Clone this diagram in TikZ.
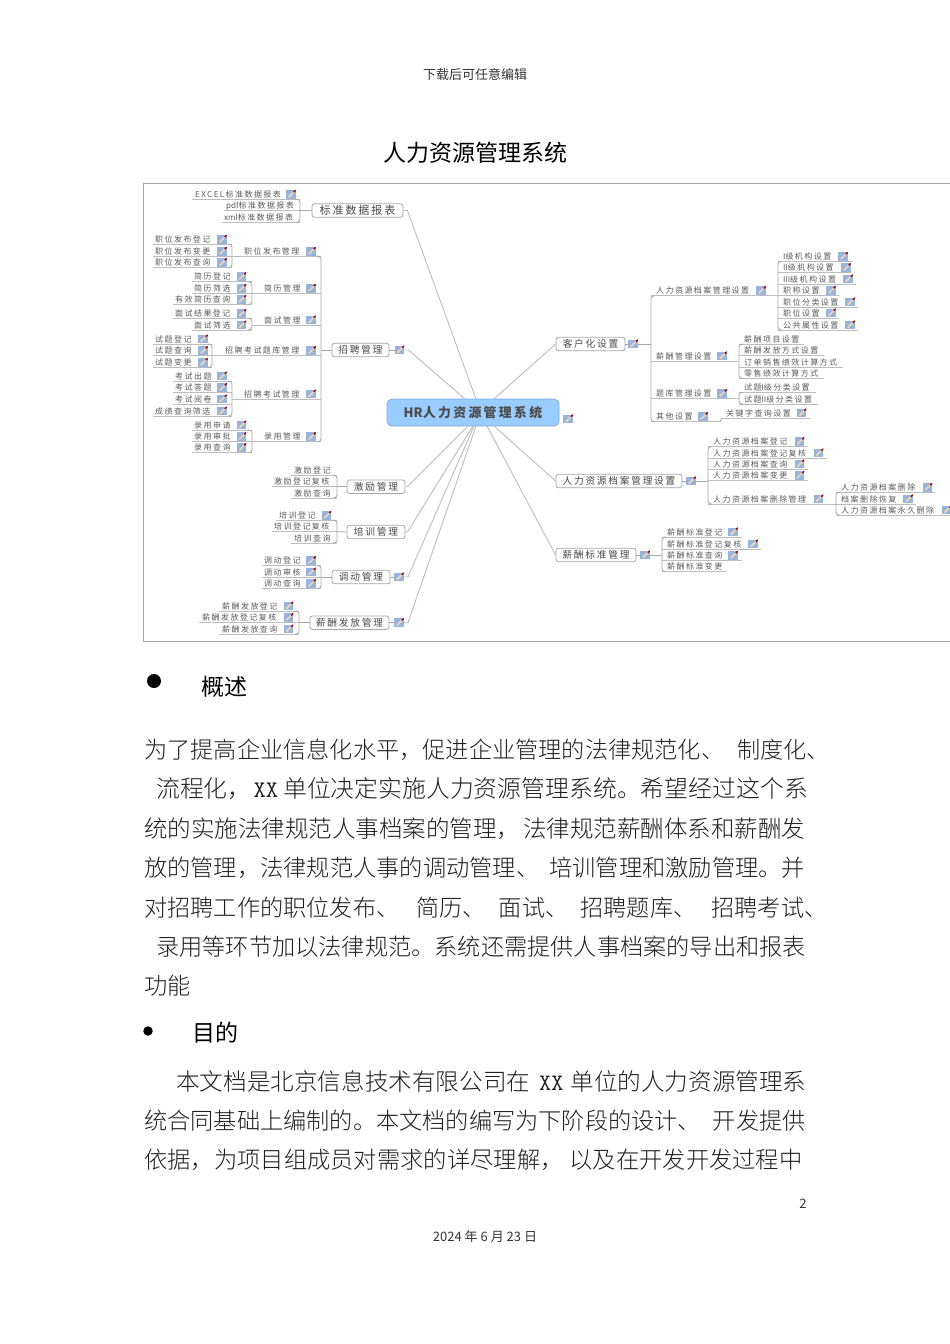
\documentclass[tikz,border=0pt]{standalone}
\usepackage{fontspec}
\usepackage{tikz}
\setmainfont{Noto Sans CJK SC Light}
\newfontfamily\headfont{Noto Sans CJK SC}
\newfontfamily\mapfont[LetterSpace=18]{Noto Sans CJK SC}

\definecolor{leafgrey}{HTML}{5A5A5A}
\definecolor{linegrey}{HTML}{BDBDBD}
\definecolor{branchgrey}{HTML}{A6A6A6}
\definecolor{hubblue}{HTML}{99CCFF}
\definecolor{hubedge}{HTML}{7FA9D6}
\definecolor{iconblue}{HTML}{98B3DE}
\definecolor{pencil}{HTML}{E6D6B4}

\tikzset{
  bodyline/.style={anchor=west,inner sep=0pt,font=\fontsize{#1}{26}\selectfont,text=black!88},
  bodyline/.default=23.2,
  headline/.style={anchor=west,inner sep=0pt,font=\fontsize{23}{26}\headfont},
  smallline/.style={inner sep=0pt,font=\fontsize{13}{14}\headfont,text=black!80},
  leaftext/.style={anchor=west,inner sep=0pt,font=\fontsize{8}{9}\mapfont,text=leafgrey},
  topic/.style={draw=branchgrey,line width=.8pt,fill=white,rounded corners=2.5pt,inner sep=0pt,
    minimum height=13.5pt,font=\fontsize{9.7}{11}\mapfont,text=leafgrey!80!black},
  hubnode/.style={draw=hubedge,line width=.8pt,fill=hubblue,rounded corners=5pt,inner sep=0pt,
    minimum width=172pt,minimum height=27pt,font=\bfseries\fontsize{12.9}{14}\mapfont,text=black!70},
  noteicon/.style={inner sep=0pt,minimum width=9.5pt,minimum height=8.5pt,fill=iconblue,
    path picture={
      \draw[line width=1.8pt,pencil] ([shift={(2.5pt,1.5pt)}]path picture bounding box.south west)
        -- ([shift={(-2pt,-2pt)}]path picture bounding box.north east);
      \draw[line width=1.4pt,red!70!black] ([shift={(-2pt,-2pt)}]path picture bounding box.north east)
        -- (path picture bounding box.north east);}},
  rule/.style={draw=linegrey,line width=.8pt},
  branch/.style={draw=branchgrey,line width=.8pt,rounded corners=3pt},
  spoke/.style={draw=linegrey,line width=.9pt},
  x=1pt,y=-1pt
}

% name, text x, underline y, left end, right end, text
\newcommand\leaf[6]{
  \node[leaftext] (#1) at (#2,#3-5) {#6};
  \coordinate (#1l) at (#4,#3);
  \coordinate (#1r) at (#5,#3);
  \draw[rule] (#1l) -- (#1r);
}
% the same, with an icon centred at x = #7
\newcommand\leafi[7]{
  \leaf{#1}{#2}{#3}{#4}{#5}{#6}
  \node[noteicon] (#1i) at (#7,#3-5) {};
}
% bracket that opens to the left, or to the right
\newcommand\bracketr[2]{\draw[branch] ([xshift=-4pt]#1r) -- (#1r) -- (#2r) -- ([xshift=-4pt]#2r);}
\newcommand\bracketl[2]{\draw[branch] ([xshift=4pt]#1l) -- (#1l) -- (#2l) -- ([xshift=4pt]#2l);}

\begin{document}
\begin{tikzpicture}
  \useasboundingbox (0,0) rectangle (950,1344);

  \node[smallline] (header) at (475,75) {下载后可任意编辑};
  \node[headline,anchor=center] (title) at (475,153) {人力资源管理系统};
  \draw[draw=black!35,line width=1pt] (143.5,183) rectangle (960,641);

  % left side
  \leafi{ex}{195}{199.3}{192}{300}{EXCEL标准数据报表}{291}
  \leaf{pd}{226}{210.7}{224}{300}{{\headfont pdf}标准数据报表}
  \leaf{xm}{224}{222.3}{222}{300}{{\headfont xml}标准数据报表}
  \bracketr{ex}{xm}

  \leafi{zw1}{155}{244.3}{153}{232}{职位发布登记}{222}
  \leafi{zw2}{155}{256.3}{153}{232}{职位发布变更}{222}
  \leafi{zw3}{155}{267.7}{153}{232}{职位发布查询}{222}
  \bracketr{zw1}{zw3}
  \leafi{zw}{244}{256.3}{232}{321}{职位发布管理}{311}

  \leafi{jl1}{194}{281.7}{192}{252}{简历登记}{241.5}
  \leafi{jl2}{194}{293.3}{192}{252}{简历筛选}{241.5}
  \leafi{jl3}{175}{304.3}{173}{252}{有效简历查询}{241.5}
  \bracketr{jl1}{jl3}
  \leafi{jl}{264}{293.3}{252}{321}{简历管理}{311}

  \leafi{ms1}{175}{318.3}{173}{252}{面试结果登记}{241.5}
  \leafi{ms2}{194}{330}{192}{252}{面试筛选}{241.5}
  \bracketr{ms1}{ms2}
  \leafi{ms}{264}{325}{252}{321}{面试管理}{311}

  \leafi{tk1}{155}{344}{153}{212}{试题登记}{203}
  \leafi{tk2}{155}{355.7}{153}{212}{试题查询}{203}
  \leafi{tk3}{155}{367.3}{153}{212}{试题变更}{203}
  \bracketr{tk1}{tk3}
  \leafi{tk}{225}{355.7}{212}{321}{招聘考试题库管理}{311}

  \leafi{ks1}{175}{381}{173}{232}{考试出题}{222}
  \leafi{ks2}{175}{392.7}{173}{232}{考试答题}{222}
  \leafi{ks3}{175}{404}{173}{232}{考试阅卷}{222}
  \leafi{ks4}{155}{416}{153}{232}{成绩查询筛选}{222}
  \bracketr{ks1}{ks4}
  \leafi{ks}{244}{399}{232}{321}{招聘考试管理}{311}

  \leafi{ly1}{194}{430}{192}{252}{录用申请}{241.5}
  \leafi{ly2}{194}{441.7}{192}{252}{录用审批}{241.5}
  \leafi{ly3}{194}{452.7}{192}{252}{录用查询}{241.5}
  \bracketr{ly1}{ly3}
  \leafi{ly}{264}{441.7}{252}{321}{录用管理}{311}
  \bracketr{zw}{ly}

  \leaf{jb1}{294}{475.3}{291}{337}{激励登记}
  \leaf{jb2}{274}{486.7}{272}{337}{激励登记复核}
  \leaf{jb3}{294}{498}{291}{337}{激励查询}
  \bracketr{jb1}{jb3}

  \leafi{px1}{279}{520.3}{276}{337}{培训登记}{326.5}
  \leaf{px2}{274}{531.7}{272}{337}{培训登记复核}
  \leaf{px3}{294}{543}{291}{337}{培训查询}
  \bracketr{px1}{px3}

  \leafi{dd1}{264}{565.7}{262}{321}{调动登记}{311}
  \leafi{dd2}{264}{577}{262}{321}{调动审核}{311}
  \leafi{dd3}{264}{588.7}{262}{321}{调动查询}{311}
  \bracketr{dd1}{dd3}

  \leafi{xf1}{222}{611}{219}{299}{薪酬发放登记}{288.5}
  \leafi{xf2}{202}{622.7}{199}{299}{薪酬发放登记复核}{288.5}
  \leafi{xf3}{222}{634}{219}{299}{薪酬发放查询}{288.5}
  \bracketr{xf1}{xf3}

  % right side
  \leafi{d1}{783}{261.3}{778}{853}{{\headfont I}级机构设置}{843}
  \leafi{d2}{783}{272.7}{778}{851}{{\headfont II}级机构设置}{846}
  \leafi{d3}{783}{284}{778}{856}{{\headfont III}级机构设置}{848}
  \leafi{d4}{783}{295.3}{778}{839}{职称设置}{831}
  \leafi{d5}{783}{307}{778}{858}{职位分类设置}{850}
  \leafi{d6}{783}{318}{778}{839}{职位设置}{831}
  \leafi{d7}{783}{330}{778}{858}{公共属性设置}{850}
  \bracketl{d1}{d7}
  \leafi{rl}{656}{295.7}{651}{778}{人力资源档案管理设置}{761}

  \leaf{s1}{744}{344}{739}{804}{薪酬项目设置}
  \leaf{s2}{744}{355.7}{739}{824}{薪酬发放方式设置}
  \leaf{s3}{744}{367.3}{739}{843}{订单销售绩效计算方式}
  \leaf{s4}{744}{378.3}{739}{824}{零售绩效计算方式}
  \bracketl{s1}{s4}
  \leafi{xc}{656}{361}{651}{739}{薪酬管理设置}{722}

  \leaf{t1}{744}{392.3}{739}{816}{试题{\headfont I}级分类设置}
  \leaf{t2}{744}{404}{739}{818}{试题{\headfont II}级分类设置}
  \bracketl{t1}{t2}
  \leafi{tg}{656}{398.7}{651}{739}{题库管理设置}{722}

  \leafi{gj}{726}{418}{722}{810}{关键字查询设置}{801.5}
  \leafi{qt}{656}{421.7}{651}{720}{其他设置}{703}
  \draw[branch] (qtr) -- (gjl);
  \bracketl{rl}{qt}

  \leafi{da1}{713}{446.7}{708}{808}{人力资源档案登记}{799.5}
  \leafi{da2}{713}{458}{708}{827}{人力资源档案登记复核}{818.5}
  \leafi{da3}{713}{469}{708}{808}{人力资源档案查询}{799.5}
  \leafi{da4}{713}{480.3}{708}{808}{人力资源档案变更}{799.5}
  \leafi{da5}{713}{504}{708}{836}{人力资源档案删除管理}{818.5}
  \bracketl{da1}{da5}

  \leafi{sc1}{841}{492.3}{836}{935}{人力资源档案删除}{927.5}
  \leafi{sc2}{841}{504}{836}{916}{档案删除恢复}{908}
  \leafi{sc3}{841}{515}{836}{950}{人力资源档案永久删除}{946.5}
  \bracketl{sc1}{sc3}

  \leafi{bz1}{667}{537}{662}{742}{薪酬标准登记}{733}
  \leafi{bz2}{667}{549}{662}{761}{薪酬标准登记复核}{753}
  \leafi{bz3}{667}{560.3}{662}{742}{薪酬标准查询}{733}
  \leaf{bz4}{667}{571.7}{662}{727}{薪酬标准变更}
  \bracketl{bz1}{bz4}

  % topics
  \node[topic,minimum width=91pt,font=\fontsize{11}{12}\mapfont] (bzbj) at (357.5,210.5) {标准数据报表};
  \node[topic,minimum width=57pt] (zpgl) at (360.5,350) {招聘管理};
  \node[noteicon] (zpgli) at (399.5,350) {};
  \node[topic,minimum width=58pt] (jlgl) at (376,486.7) {激励管理};
  \node[topic,minimum width=58pt] (pxgl) at (376,532) {培训管理};
  \node[topic,minimum width=58pt] (ddgl) at (361,577) {调动管理};
  \node[noteicon] (ddgli) at (399,577) {};
  \node[topic,minimum width=79pt] (xfgl) at (349.5,622.7) {薪酬发放管理};
  \node[noteicon] (xfgli) at (399,622.7) {};
  \node[topic,minimum width=69pt] (khsz) at (590.5,344) {客户化设置};
  \node[noteicon] (khszi) at (633,344) {};
  \node[topic,minimum width=126pt] (dagl) at (619,481) {人力资源档案管理设置};
  \node[noteicon] (dagli) at (691,481) {};
  \node[topic,minimum width=80pt] (bzgl) at (596,555) {薪酬标准管理};
  \node[noteicon] (bzgli) at (645,555) {};
  \node[hubnode] (hub) at (473,412.5) {{\headfont\bfseries HR}人力资源管理系统};
  \node[noteicon] (hubi) at (568,419) {};

  \coordinate (hub1) at (476,399);
  \coordinate (hub2) at (465,399);
  \coordinate (hub3) at (494,399);
  \coordinate (hub4) at (468,426);
  \coordinate (hub5) at (473,426);
  \coordinate (hub6) at (474,426);
  \coordinate (hub7) at (476,426);
  \coordinate (hub8) at (494,426);
  \coordinate (hub9) at (487,426);

  \draw[spoke] (bzbj.east) -- ++(4,0) -- (hub1);
  \draw[spoke] (zpgli.east) -- ++(4,0) -- (hub2);
  \draw[spoke] (khsz.west) -- (hub3);
  \draw[spoke] (jlgl.east) -- ++(2,0) -- (hub4);
  \draw[spoke] (pxgl.east) -- ++(2,0) -- (hub5);
  \draw[spoke] (ddgli.east) -- ++(4,0) -- (hub6);
  \draw[spoke] (xfgli.east) -- ++(4,0) -- (hub7);
  \draw[spoke] (dagl.west) -- (hub8);
  \draw[spoke] (bzgl.west) -- (hub9);

  \draw[branch] (bzbj.west) -- (pdr |- bzbj.west);
  \draw[branch] (zpgl.west) -- (zwr |- zpgl.west);
  \draw[branch] (zpgl.east) -- (zpgli.west);
  \draw[branch] (jlgl.west) -- (jb2r);
  \draw[branch] (pxgl.west) -- (px2r);
  \draw[branch] (ddgl.west) -- (dd2r);
  \draw[branch] (ddgl.east) -- (ddgli.west);
  \draw[branch] (xfgl.west) -- (xf2r);
  \draw[branch] (xfgl.east) -- (xfgli.west);
  \draw[branch] (khsz.east) -- (khszi.west);
  \draw[branch] (khszi.east) -- (rll |- khszi.east);
  \draw[branch] (dagl.east) -- (dagli.west);
  \draw[branch] (dagli.east) -- (da1l |- dagli.east);
  \draw[branch] (bzgl.east) -- (bzgli.west);
  \draw[branch] (bzgli.east) -- (bz1l |- bzgli.east);

  % text below the map
  \node[circle,fill=black,inner sep=0pt,minimum size=14pt] (dot1) at (154,681) {};
  \node[headline] (gs) at (201,687) {概述};
  \node[bodyline] (a1) at (144,750) {为了提高企业信息化水平，促进企业管理的法律规范化、\hspace{13pt}制度化、};
  \node[bodyline=23.85] (a2) at (156,789) {流程化，\hspace{2pt}{\ttfamily XX}\hspace{5pt}单位决定实施人力资源管理系统。希望经过这个系};
  \node[bodyline=23.5] (a3) at (144,829) {统的实施法律规范人事档案的管理，\hspace{3pt}法律规范薪酬体系和薪酬发};
  \node[bodyline=23.25] (a4) at (144,868) {放的管理，法律规范人事的调动管理、\hspace{10pt}培训管理和激励管理。并};
  \node[bodyline] (a5) at (144,908) {对招聘工作的职位发布、\hspace{17pt}简历、\hspace{13pt}面试、\hspace{12pt}招聘题库、\hspace{15pt}招聘考试、};
  \node[bodyline] (a6) at (156,947) {录用等环节加以法律规范。系统还需提供人事档案的导出和报表};
  \node[bodyline] (a7) at (144,986) {功能};
  \node[circle,fill=black,inner sep=0pt,minimum size=9.5pt] (dot2) at (148,1031) {};
  \node[headline] (md) at (192,1033) {目的};
  \node[bodyline=23.6] (b1) at (176,1081) {本文档是北京信息技术有限公司在\hspace{9pt}{\ttfamily XX}\hspace{7pt}单位的人力资源管理系};
  \node[bodyline] (b2) at (144,1121) {统合同基础上编制的。本文档的编写为下阶段的设计、\hspace{12pt}开发提供};
  \node[bodyline=23.3] (b3) at (144,1160) {依据，为项目组成员对需求的详尽理解，\hspace{6pt}以及在开发开发过程中};

  \node[smallline] (pageno) at (803,1204) {2};
  \node[smallline] (date) at (485,1237) {2024 年 6 月 23 日};
\end{tikzpicture}
\end{document}
